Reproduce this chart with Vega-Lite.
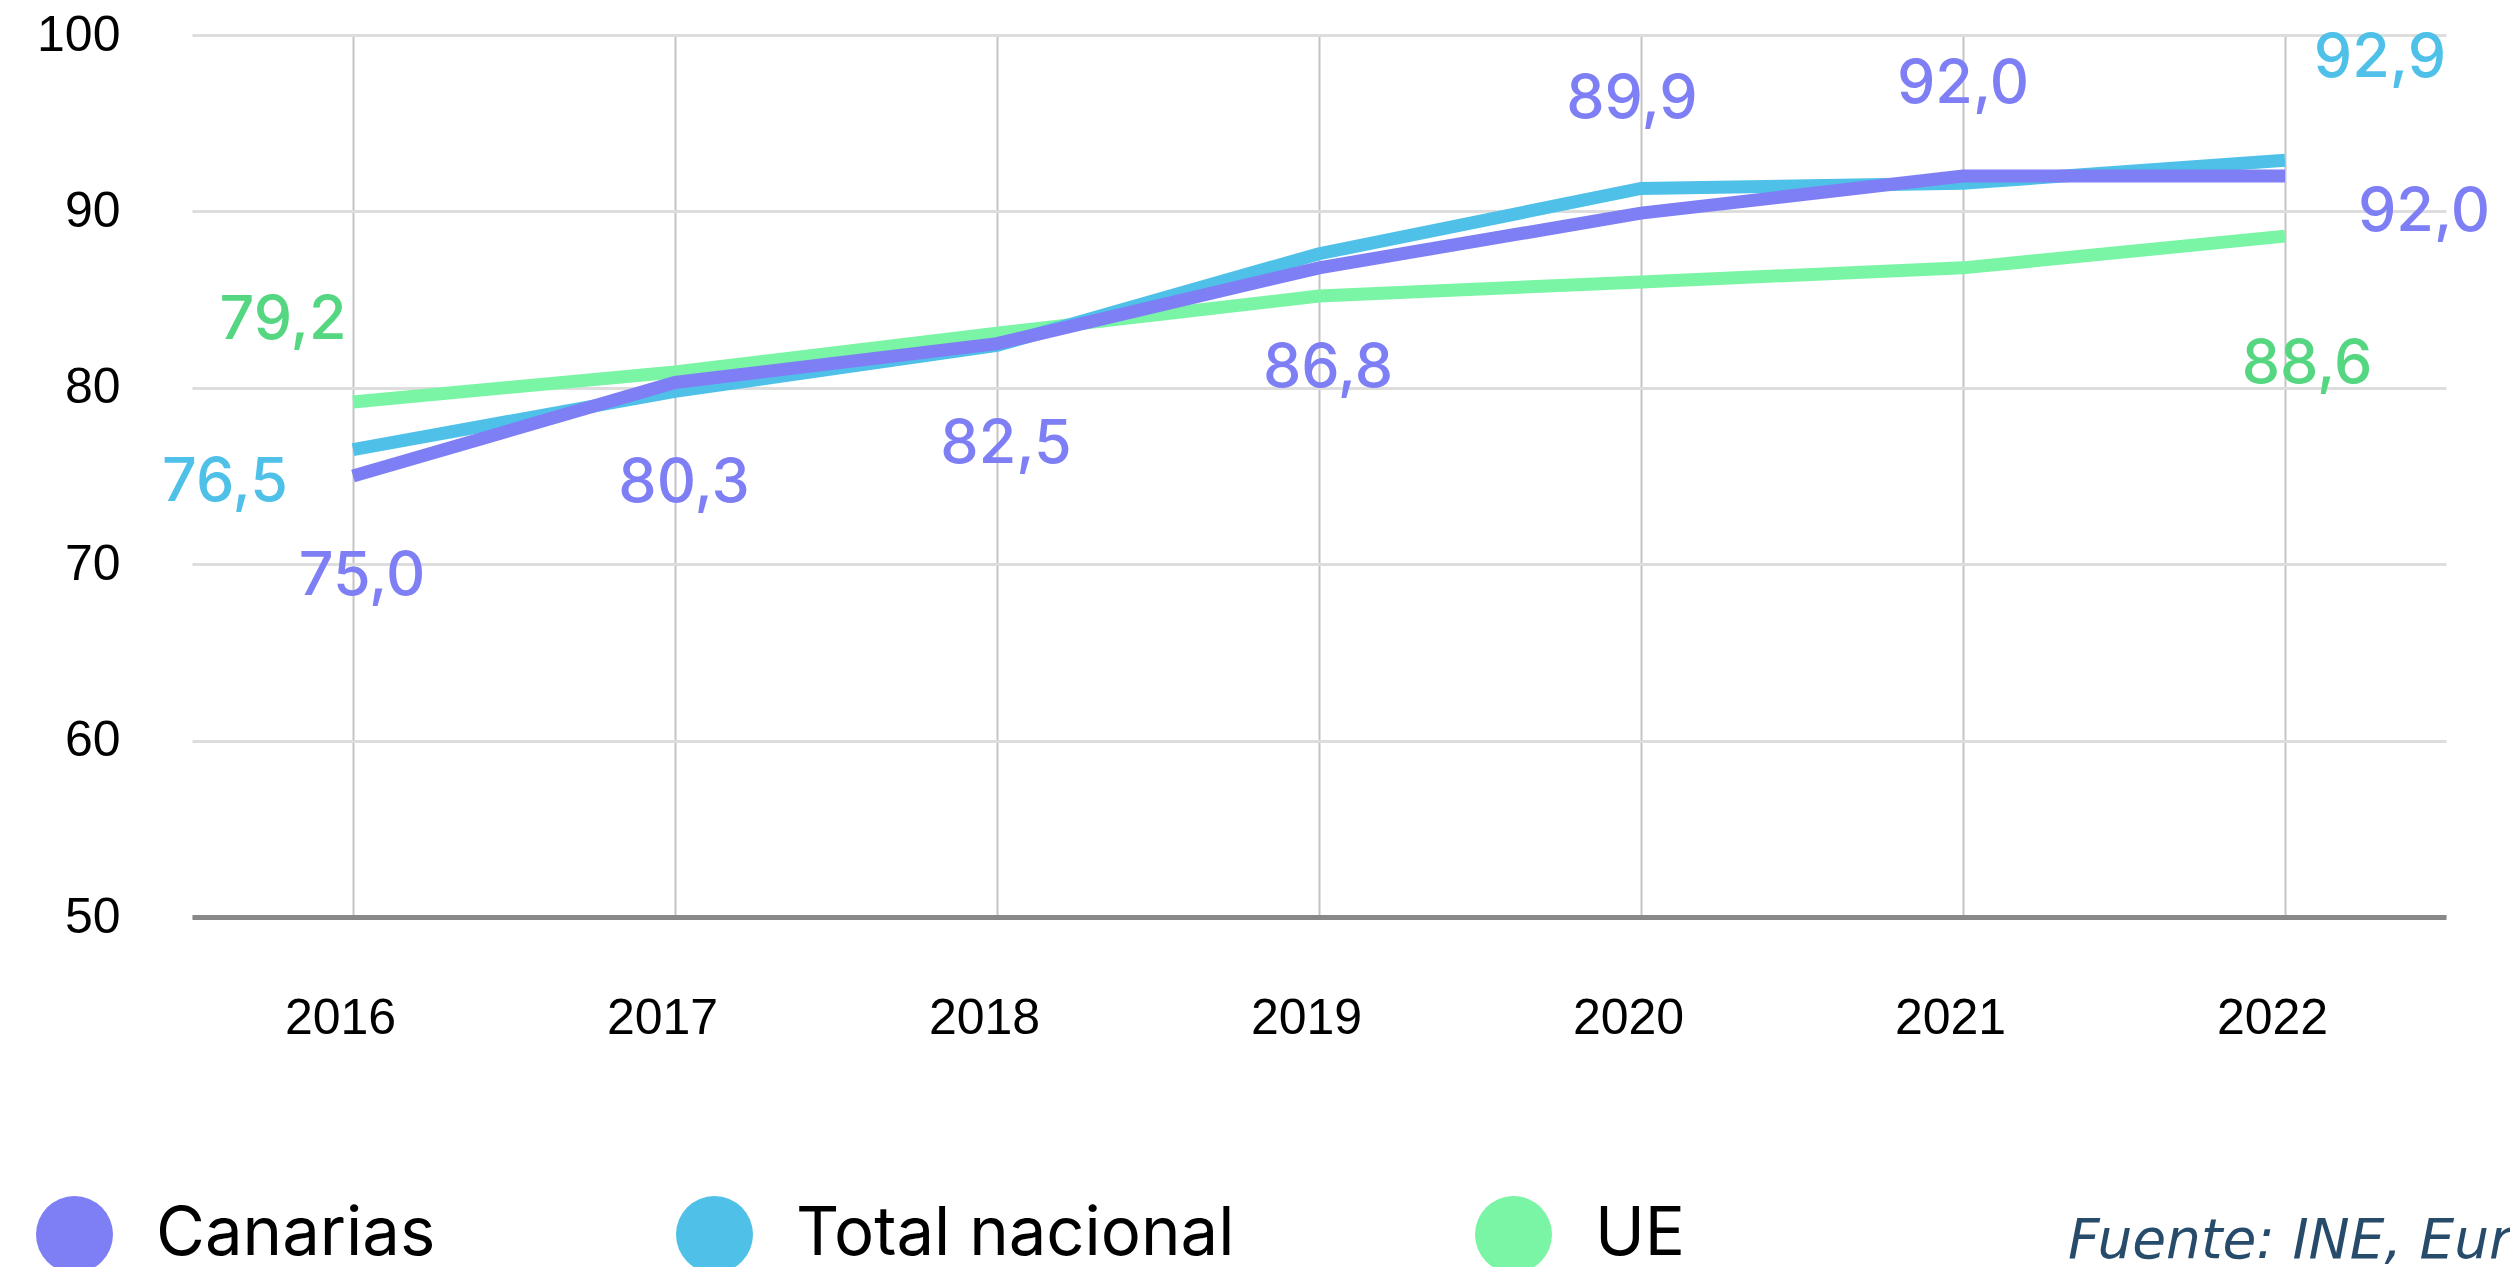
{
  "$schema": "https://vega.github.io/schema/vega-lite/v6.json",
  "autosize": {"type": "none"},
  "width": 2254,
  "height": 882,
  "padding": {"left": 192, "top": 35, "right": 64, "bottom": 350},
  "background": "#ffffff",
  "config": {
    "view": {"stroke": null},
    "locale": {"number": {"decimal": ",", "thousands": ".", "grouping": [3], "currency": ["", " €"]}}
  },
  "title": {
    "text": "Fuente: INE, Eurostat",
    "orient": "bottom",
    "anchor": "start",
    "frame": "group",
    "font": "DejaVu Sans",
    "fontStyle": "italic",
    "fontWeight": "normal",
    "fontSize": 55,
    "color": "#274b6a",
    "dx": 1876,
    "offset": -58
  },
  "data": {
    "values": [
      {"series": "UE", "year": "2016", "value": 79.2},
      {"series": "UE", "year": "2017", "value": 80.9},
      {"series": "UE", "year": "2018", "value": 83.1},
      {"series": "UE", "year": "2019", "value": 85.2},
      {"series": "UE", "year": "2020", "value": 86.0},
      {"series": "UE", "year": "2021", "value": 86.8},
      {"series": "UE", "year": "2022", "value": 88.6},
      {"series": "Total nacional", "year": "2016", "value": 76.5},
      {"series": "Total nacional", "year": "2017", "value": 79.8},
      {"series": "Total nacional", "year": "2018", "value": 82.4},
      {"series": "Total nacional", "year": "2019", "value": 87.6},
      {"series": "Total nacional", "year": "2020", "value": 91.3},
      {"series": "Total nacional", "year": "2021", "value": 91.6},
      {"series": "Total nacional", "year": "2022", "value": 92.9},
      {"series": "Canarias", "year": "2016", "value": 75.0},
      {"series": "Canarias", "year": "2017", "value": 80.3},
      {"series": "Canarias", "year": "2018", "value": 82.5},
      {"series": "Canarias", "year": "2019", "value": 86.8},
      {"series": "Canarias", "year": "2020", "value": 89.9},
      {"series": "Canarias", "year": "2021", "value": 92.0},
      {"series": "Canarias", "year": "2022", "value": 92.0}
    ]
  },
  "encoding": {
    "x": {
      "field": "year",
      "type": "ordinal",
      "scale": {"type": "point", "padding": 0.5},
      "axis": {
        "title": null,
        "labelAngle": 0,
        "labelFont": "Liberation Sans",
        "labelFontSize": 50,
        "labelColor": "#000000",
        "labelPadding": 76,
        "labelOffset": -13,
        "ticks": false,
        "domain": true,
        "domainColor": "#888888",
        "domainWidth": 5,
        "grid": true,
        "gridColor": "#c4c4c4",
        "gridWidth": 2
      }
    },
    "y": {
      "field": "value",
      "type": "quantitative",
      "scale": {"domain": [50, 100], "nice": false, "zero": false},
      "axis": {
        "title": null,
        "values": [50, 60, 70, 80, 90, 100],
        "labelFont": "Liberation Sans",
        "labelFontSize": 50,
        "labelColor": "#000000",
        "labelPadding": 72,
        "ticks": false,
        "domain": false,
        "grid": true,
        "gridColor": "#dddddd",
        "gridWidth": 3
      }
    }
  },
  "layer": [
    {
      "mark": {"type": "line", "strokeWidth": 13, "strokeCap": "butt", "strokeJoin": "miter"},
      "encoding": {
        "color": {
          "field": "series",
          "type": "nominal",
          "scale": {"domain": ["Canarias", "Total nacional", "UE"], "range": ["#7f7ff5", "#4fc1e9", "#7af5a5"]},
          "legend": {
            "orient": "none",
            "legendX": -156,
            "legendY": 1161,
            "direction": "horizontal",
            "title": null,
            "padding": 0,
            "symbolType": "circle",
            "symbolSize": 5929,
            "symbolStrokeWidth": 0,
            "symbolOpacity": 1,
            "labelFont": "Inter",
            "labelFontSize": 67,
            "labelColor": "#000000",
            "labelOffset": 43,
            "labelLimit": 1000,
            "columnPadding": 240,
            "encode": {"symbols": {"update": {"fill": {"scale": "color", "field": "value"}, "strokeWidth": {"value": 0}, "opacity": {"value": 1}}}}
          }
        }
      }
    },
    {
      "transform": [{"filter": "datum.series == 'Canarias' && toNumber(datum.year) <= 2019"}],
      "mark": {"type": "text", "font": "Inter", "fontSize": 61, "fontWeight": 500, "color": "#7f7ff5", "align": "center", "baseline": "middle", "dx": 9, "dy": 101},
      "encoding": {"text": {"field": "value", "type": "quantitative", "format": ".1f"}}
    },
    {
      "transform": [{"filter": "datum.series == 'Canarias' && datum.year == '2020'"}],
      "mark": {"type": "text", "font": "Inter", "fontSize": 61, "fontWeight": 500, "color": "#7f7ff5", "align": "center", "baseline": "middle", "dx": -9, "dy": -113},
      "encoding": {"text": {"field": "value", "type": "quantitative", "format": ".1f"}}
    },
    {
      "transform": [{"filter": "datum.series == 'Canarias' && datum.year == '2021'"}],
      "mark": {"type": "text", "font": "Inter", "fontSize": 61, "fontWeight": 500, "color": "#7f7ff5", "align": "center", "baseline": "middle", "dx": 0, "dy": -91},
      "encoding": {"text": {"field": "value", "type": "quantitative", "format": ".1f"}}
    },
    {
      "transform": [{"filter": "datum.series == 'Canarias' && datum.year == '2022'"}],
      "mark": {"type": "text", "font": "Inter", "fontSize": 61, "fontWeight": 500, "color": "#7f7ff5", "align": "center", "baseline": "middle", "dx": 139, "dy": 37},
      "encoding": {"text": {"field": "value", "type": "quantitative", "format": ".1f"}}
    },
    {
      "transform": [{"filter": "datum.series == 'Total nacional' && datum.year == '2016'"}],
      "mark": {"type": "text", "font": "Inter", "fontSize": 61, "fontWeight": 500, "color": "#4fc1e9", "align": "center", "baseline": "middle", "dx": -128, "dy": 33},
      "encoding": {"text": {"field": "value", "type": "quantitative", "format": ".1f"}}
    },
    {
      "transform": [{"filter": "datum.series == 'Total nacional' && datum.year == '2022'"}],
      "mark": {"type": "text", "font": "Inter", "fontSize": 61, "fontWeight": 500, "color": "#4fc1e9", "align": "center", "baseline": "middle", "dx": 95, "dy": -101},
      "encoding": {"text": {"field": "value", "type": "quantitative", "format": ".1f"}}
    },
    {
      "transform": [{"filter": "datum.series == 'UE' && datum.year == '2016'"}],
      "mark": {"type": "text", "font": "Inter", "fontSize": 61, "fontWeight": 500, "color": "#55d681", "align": "center", "baseline": "middle", "dx": -70, "dy": -81},
      "encoding": {"text": {"field": "value", "type": "quantitative", "format": ".1f"}}
    },
    {
      "transform": [{"filter": "datum.series == 'UE' && datum.year == '2022'"}],
      "mark": {"type": "text", "font": "Inter", "fontSize": 61, "fontWeight": 500, "color": "#55d681", "align": "center", "baseline": "middle", "dx": 22, "dy": 129},
      "encoding": {"text": {"field": "value", "type": "quantitative", "format": ".1f"}}
    }
  ]
}
